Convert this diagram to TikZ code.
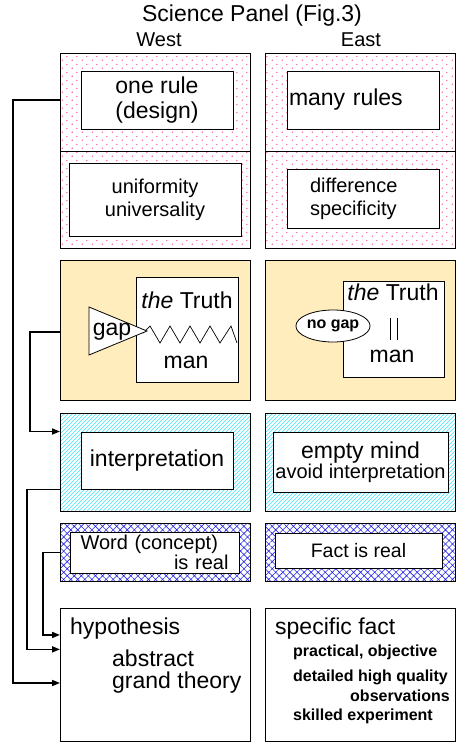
\documentclass[tikz,border=0pt]{standalone}
\usepackage{fontspec}
\setmainfont{Liberation Sans}
\usepackage{tikz}
\usetikzlibrary{patterns,patterns.meta,shapes.geometric,arrows.meta}
\definecolor{dot pink}{rgb}{1, 0.2, 0.6}
\definecolor{panel yellow}{rgb}{1, 0.93, 0.74}
\definecolor{hatch cyan}{rgb}{0.25, 0.9, 1}
\definecolor{hatch blue}{rgb}{0.15, 0.15, 0.9}
\pgfdeclarepatterninherentlycolored{pink dots}{\pgfpointorigin}{\pgfqpoint{10pt}{8pt}}{\pgfqpoint{10pt}{8pt}}{%
	\pgfsetfillcolor{dot pink}%
	\pgfpathcircle{\pgfqpoint{2.5pt}{2pt}}{0.75pt}%
	\pgfpathcircle{\pgfqpoint{7.5pt}{6pt}}{0.75pt}%
	\pgfusepath{fill}}
\pgfdeclarepatterninherentlycolored{cyan lines}{\pgfqpoint{-1pt}{-1pt}}{\pgfqpoint{5pt}{5pt}}{\pgfqpoint{4pt}{4pt}}{%
	\pgfsetstrokecolor{hatch cyan}%
	\pgfsetlinewidth{0.5pt}%
	\pgfpathmoveto{\pgfqpoint{-0.1pt}{-0.1pt}}%
	\pgfpathlineto{\pgfqpoint{4.1pt}{4.1pt}}%
	\pgfusepath{stroke}}
\newcommand{\bigfont}{\fontsize{23}{25}\selectfont}
\newcommand{\midfont}{\fontsize{20}{23}\selectfont}
\newcommand{\smallbold}{\fontsize{16}{18}\selectfont\bfseries}

\begin{document}
\begin{tikzpicture}[x=1pt, y=-1pt,
		panel/.style={draw, line width=1pt, anchor=north west, inner sep=0pt, minimum width=190pt},
		inbox/.style={draw, fill=white, line width=1pt, inner sep=0pt},
		txt/.style={inner sep=0pt},
		link/.style={line width=1.6pt, -{Triangle[length=8pt, width=6pt]}}]
		\useasboundingbox (0, 0) rectangle (461, 742);
		% part for the headings
		\node[font=\bigfont] (title) at (252, 16) {Science Panel (Fig.3)};
		\node[font=\midfont] (west) at (159, 40) {West};
		\node[font=\midfont] (east) at (361, 40) {East};
		% part for the rules (pink dots)
		\begin{scope}[every node/.append style={pattern=pink dots}]
			\node[panel, minimum height=98pt] (wtop) at (60, 53) {};
			\node[panel, minimum height=97pt] (wmid) at (60, 151) {};
			\node[panel, minimum height=98pt] (etop) at (265, 53) {};
			\node[panel, minimum height=97pt] (emid) at (265, 151) {};
		\end{scope}
		\node[inbox, minimum width=152pt, minimum height=58pt, font=\bigfont, align=center] (wrule) at (157, 100) {one rule\\(design)};
		\node[inbox, minimum height=58pt, text width=148pt, inner xsep=2pt, align=left, font=\bigfont] (erules) at (363, 100) {many rules};
		\node[inbox, minimum width=172pt, minimum height=73pt, font=\midfont, align=center] (wunif) at (155, 199.5) {uniformity\\universality};
		\node[inbox, minimum height=59pt, text width=106pt, inner xsep=23pt, align=left, font=\midfont] (ediff) at (363, 198.5) {difference\\specificity};
		% part for the truth (yellow)
		\node[panel, minimum height=140pt, fill=panel yellow] (wy) at (60, 260) {};
		\node[panel, minimum height=140pt, fill=panel yellow] (ey) at (265, 260) {};
		\node[inbox, minimum width=102pt, minimum height=105pt] (wtruth) at (187, 329.5) {};
		\node[txt, font=\bigfont] (wthe) at (187, 300) {\textit{the} Truth};
		\node[txt, font=\bigfont] (wman) at (186, 362) {man};
		\draw[line width=0.7pt] (143, 333) -- (150, 326) -- (160, 343) -- (170, 326) -- (180, 343)
			-- (190, 326) -- (200, 343) -- (210, 326) -- (220, 343) -- (231, 326) -- (237, 343);
		\draw[fill=white, line width=0.8pt] (89, 307) -- (147, 331) -- (89, 355) -- cycle;
		\node[txt, font=\bigfont] (wgap) at (112, 332) {gap};
		\node[inbox, minimum width=101pt, minimum height=96pt] (etruth) at (393.5, 329) {};
		\node[txt, font=\bigfont] (ethe) at (393, 292) {\textit{the} Truth};
		\node[txt, font=\bigfont] (eman) at (392, 356) {man};
		\draw[line width=0.8pt] (390, 318) -- (390, 340) (397, 318) -- (397, 340);
		\node[ellipse, draw, fill=white, line width=0.8pt, minimum width=64pt, minimum height=32pt, inner sep=0pt, font=\smallbold] (enogap) at (333, 326) {no gap};
		% part for interpretation (cyan lines)
		\begin{scope}[every node/.append style={pattern=cyan lines}]
			\node[panel, minimum height=98pt] (wh) at (60, 413) {};
			\node[panel, minimum height=98pt] (eh) at (265, 413) {};
		\end{scope}
		\node[inbox, minimum width=152pt, minimum height=57pt, font=\bigfont] (winterp) at (157, 460.5) {interpretation};
		\node[inbox, minimum width=175pt, minimum height=60pt, align=center] (eempty) at (360.5, 462) {{\bigfont empty mind}\\{\midfont avoid interpretation}};
		% part for what is real (blue crosshatch)
		\begin{scope}[every node/.append style={pattern={Hatch[angle=45, distance=5pt, line width=0.6pt]}, pattern color=hatch blue}]
			\node[panel, minimum height=58pt] (wc) at (60, 523) {};
			\node[panel, minimum height=58pt] (ec) at (265, 523) {};
		\end{scope}
		\node[inbox, minimum height=41pt, text width=148pt, inner xsep=10.5pt, align=left, font=\fontsize{20}{18}\selectfont] (wword) at (154.5, 552.5) {Word (concept)\\\mbox{}\hfill is real};
		\node[inbox, minimum width=167pt, minimum height=35pt, font=\fontsize{19.5}{22}\selectfont] (efact) at (358.5, 550.5) {Fact is real};
		% part for the outcome
		\node[panel, minimum height=133pt] (wbot) at (60, 608) {};
		\node[panel, minimum height=133pt] (ebot) at (265, 608) {};
		\node[txt, anchor=west, font=\bigfont] (whyp) at (70, 629) {hypothesis};
		\node[txt, anchor=west, font=\bigfont] (wabs) at (112, 658) {abstract};
		\node[txt, anchor=west, font=\bigfont] (wtheory) at (112, 683) {grand theory};
		\node[txt, anchor=west, font=\bigfont] (espec) at (275, 629) {specific fact};
		\node[txt, anchor=west, font=\smallbold] (eprac) at (293, 652) {practical, objective};
		\node[txt, anchor=west, font=\smallbold] (edet) at (293, 677) {detailed high quality};
		\node[txt, anchor=east, font=\smallbold] (eobs) at (450, 696) {observations};
		\node[txt, anchor=west, font=\smallbold] (eskill) at (293, 716) {skilled experiment};
		% links on the west side
		\draw[link] (wtop.west |- wrule) -- ++(-47, 0) |- (wbot.west |- wtheory);
		\draw[link] (wy.west |- wgap) -- ++(-30, 0) |- (wh.west |- winterp.north);
		\draw[link] (wh.west |- winterp.south) -- ++(-33, 0) |- (wbot.west |- wabs.north);
		\draw[link] (wc.west |- wword) -- ++(-17, 0) |- (wbot.west |- whyp.base);
	\end{tikzpicture}
\end{document}
